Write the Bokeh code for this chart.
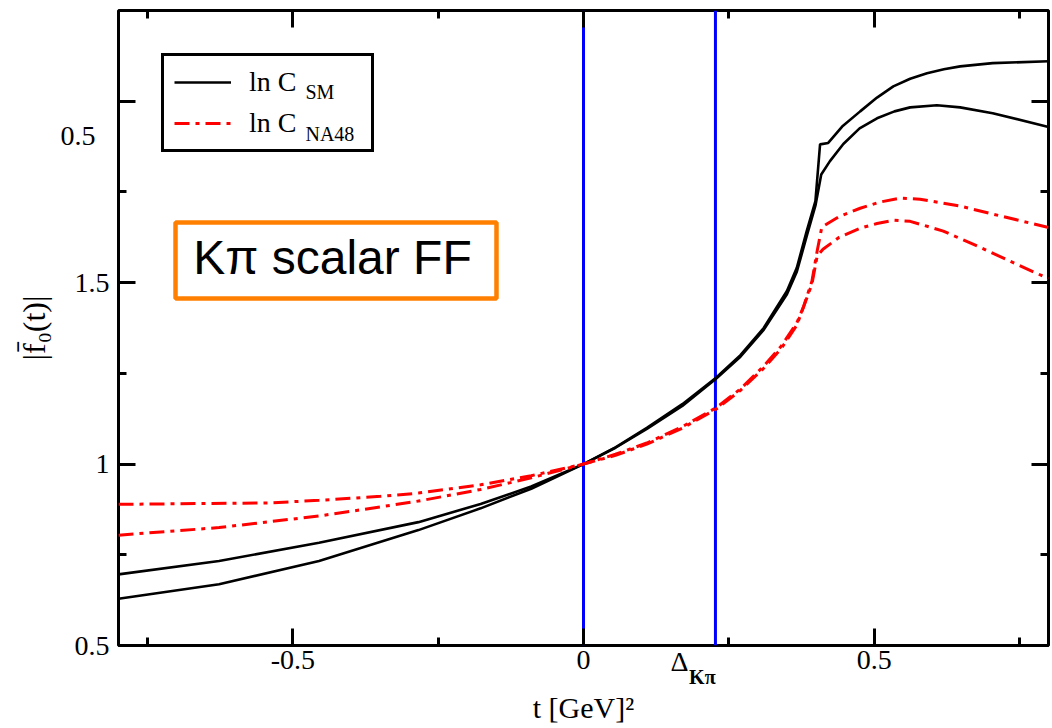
from bokeh.plotting import figure
from bokeh.models import (FixedTicker, LinearAxis, Span, Label, BoxAnnotation,
                          Legend, LegendItem)
from bokeh.embed import file_html
from bokeh.resources import INLINE

# ---------------- data ----------------
# ln C_SM band: curve A (low at t<0, high at t>0), curve B
t_sm_a = [-0.80, -0.627, -0.455, -0.284, -0.177, -0.09, 0.0, 0.055, 0.109, 0.17,
          0.228, 0.27, 0.310, 0.350, 0.367, 0.384, 0.399, 0.407, 0.421, 0.445,
          0.476, 0.505, 0.533, 0.562, 0.591, 0.620, 0.648, 0.704, 0.80]
f_sm_a = [0.629, 0.669, 0.733, 0.818, 0.878, 0.932, 1.0, 1.046, 1.100, 1.165,
          1.238, 1.300, 1.375, 1.477, 1.541, 1.642, 1.725, 1.881, 1.885, 1.930,
          1.972, 2.010, 2.041, 2.062, 2.077, 2.088, 2.096, 2.105, 2.110]

t_sm_b = [-0.80, -0.627, -0.455, -0.284, -0.177, -0.09, 0.0, 0.055, 0.109, 0.17,
          0.228, 0.27, 0.310, 0.350, 0.367, 0.384, 0.399, 0.409, 0.424, 0.447,
          0.475, 0.505, 0.535, 0.562, 0.608, 0.648, 0.704, 0.80]
f_sm_b = [0.696, 0.733, 0.783, 0.840, 0.890, 0.938, 1.0, 1.045, 1.097, 1.160,
          1.235, 1.296, 1.370, 1.468, 1.530, 1.628, 1.712, 1.798, 1.835, 1.882,
          1.925, 1.953, 1.972, 1.983, 1.989, 1.983, 1.967, 1.929]

# ln C_NA48 band: curve C (low at t<0, high at t>0), curve D
t_na_c = [-0.80, -0.627, -0.455, -0.349, -0.284, -0.177, -0.09, 0.0, 0.055, 0.109,
          0.17, 0.228, 0.27, 0.310, 0.340, 0.367, 0.378, 0.393, 0.402, 0.410,
          0.44, 0.476, 0.510, 0.545, 0.579, 0.648, 0.704, 0.80]
f_na_c = [0.804, 0.825, 0.857, 0.882, 0.898, 0.930, 0.962, 1.0, 1.027, 1.058,
          1.103, 1.155, 1.207, 1.270, 1.325, 1.389, 1.431, 1.504, 1.587, 1.653,
          1.682, 1.705, 1.722, 1.733, 1.730, 1.711, 1.689, 1.652]

t_na_d = [-0.80, -0.541, -0.455, -0.349, -0.284, -0.177, -0.09, 0.0, 0.055, 0.109,
          0.17, 0.228, 0.27, 0.310, 0.340, 0.367, 0.393, 0.402, 0.412, 0.44,
          0.476, 0.505, 0.533, 0.562, 0.619, 0.677, 0.734, 0.80]
f_na_d = [0.889, 0.893, 0.900, 0.911, 0.920, 0.943, 0.968, 1.0, 1.024, 1.055,
          1.099, 1.151, 1.203, 1.264, 1.318, 1.383, 1.496, 1.573, 1.592, 1.625,
          1.650, 1.663, 1.672, 1.669, 1.642, 1.601, 1.559, 1.511]

# vertical markers: t = 0 and t = Delta_Kpi
vlines_t = [0.0, 0.227]

x_ticks = [-0.5, 0.0, 0.5]
x_minor = [-0.75, -0.25, 0.25, 0.75]
x_tick_labels = ["-0.5", "0", "0.5"]
y_ticks = [0.5, 1.0, 1.5]
y_minor = [0.75, 1.25, 1.75]
y_tick_labels = ["0.5", "1", "1.5"]
y_hidden_major = [2.0]          # its label "2" is hidden behind the overlapping panel

# Delta_Kpi marker label (Delta, subscript K pi) and the overlapping panel's "0.5"
delta_label_t = [0.165]
kpi_label_t = [0.2045]
frag_label_y = [1.905]
frag_label_text = ["0.5"]

legend_labels = ["ln C", "ln C"]
legend_subs = ["SM", "NA48"]

# ---------------- figure ----------------
SERIF = "Liberation Serif"
p = figure(width=1052, height=728, x_range=(-0.8, 0.8), y_range=(0.5, 2.25),
           output_backend="svg", toolbar_location=None,
           x_axis_location=None, y_axis_location=None,
           min_border_left=118, min_border_right=4, min_border_top=10,
           min_border_bottom=83)
p.grid.visible = False
p.background_fill_color = "white"
p.border_fill_color = "white"
p.outline_line_color = "black"
p.outline_line_width = 3
p.outline_line_alpha = 1.0


def make_axis(ticks, minor=(), labels=None, major_in=0, minor_in=0, standoff=0,
              font_size="28px", font_style="normal", axis_label=None,
              axis_label_size="30px", axis_label_standoff=0):
    ax = LinearAxis(ticker=FixedTicker(ticks=list(ticks), minor_ticks=list(minor)))
    ax.axis_line_color = None
    ax.major_tick_in = major_in
    ax.major_tick_out = 0
    ax.minor_tick_in = minor_in
    ax.minor_tick_out = 0
    ax.major_tick_line_width = 3
    ax.minor_tick_line_width = 3
    ax.major_tick_line_color = "black" if major_in else None
    ax.minor_tick_line_color = "black" if minor_in else None
    ax.major_label_text_font = SERIF
    ax.major_label_text_color = "black"
    ax.major_label_text_font_size = font_size
    ax.major_label_text_font_style = font_style
    ax.major_label_standoff = standoff
    if labels is not None:
        ax.major_label_overrides = {v: s for v, s in zip(ticks, labels)}
    if axis_label is not None:
        ax.axis_label = axis_label
        ax.axis_label_text_font = SERIF
        ax.axis_label_text_font_style = "normal"
        ax.axis_label_text_color = "black"
        ax.axis_label_text_font_size = axis_label_size
        ax.axis_label_standoff = axis_label_standoff
    return ax


# bottom: tick axis, Delta label, K pi subscript, axis title
p.add_layout(make_axis(x_ticks, x_minor, x_tick_labels, major_in=17, minor_in=8,
                       standoff=5), "below")
p.add_layout(make_axis(delta_label_t, labels=["\u0394"], standoff=-26), "below")
p.add_layout(make_axis(kpi_label_t, labels=["K\u03c0"], standoff=-14,
                       font_size="20px", font_style="bold"), "below")
p.add_layout(make_axis([], axis_label="t [GeV]\u00b2", axis_label_size="30px",
                       axis_label_standoff=0), "below")

# left: hidden-label major tick, tick axis, overlapping-panel text, axis title
p.add_layout(make_axis([], y_hidden_major, minor_in=17), "left")
p.add_layout(make_axis(y_ticks, y_minor, y_tick_labels, major_in=17, minor_in=8,
                       standoff=9), "left")
p.add_layout(make_axis(frag_label_y, labels=frag_label_text, standoff=-24), "left")
p.add_layout(make_axis([], axis_label="|f\u0304\u2080(t)|", axis_label_size="32px",
                       axis_label_standoff=6), "left")

# top and right mirror ticks (no labels)
p.add_layout(make_axis([], x_ticks, minor_in=17), "above")
p.add_layout(make_axis([], x_minor, minor_in=8), "above")
p.add_layout(make_axis([], y_ticks + y_hidden_major, minor_in=17), "right")
p.add_layout(make_axis([], y_minor, minor_in=8), "right")

# vertical blue lines (under curves and ticks)
for tv in vlines_t:
    p.add_layout(Span(location=tv, dimension="height", line_color="#0000ff",
                      line_width=3, level="underlay"))

# curves
DASH = "15 6 4 6"
rA = p.line(t_sm_a, f_sm_a, line_color="black", line_width=2.6)
rB = p.line(t_sm_b, f_sm_b, line_color="black", line_width=2.6)
rC = p.line(t_na_c, f_na_c, line_color="#ff0000", line_width=3, line_dash=DASH)
rD = p.line(t_na_d, f_na_d, line_color="#ff0000", line_width=3, line_dash=DASH)

# legend subscripts (legend box is transparent, so these show through it)
p.add_layout(Label(x=-0.4783, y=2.0254, text=legend_subs[0], text_font=SERIF,
                   text_font_size="20px", text_color="black",
                   text_baseline="alphabetic"))
p.add_layout(Label(x=-0.4783, y=1.9097, text=legend_subs[1], text_font=SERIF,
                   text_font_size="20px", text_color="black",
                   text_baseline="alphabetic"))

# legend
legend = Legend(items=[LegendItem(label=legend_labels[0], renderers=[rA]),
                       LegendItem(label=legend_labels[1], renderers=[rC])],
                location="top_left", margin=43, padding=10, spacing=9,
                glyph_width=57, glyph_height=32, label_height=32,
                label_standoff=18, label_width=112,
                label_text_font=SERIF, label_text_font_size="28px",
                label_text_color="black",
                border_line_color="black", border_line_width=3,
                border_line_alpha=1.0,
                background_fill_color=None, background_fill_alpha=0.0)
p.add_layout(legend, "center")

# "K pi scalar FF" box
p.add_layout(BoxAnnotation(left=-0.7019, right=-0.1497, bottom=1.4563, top=1.6658,
                           fill_color="white", fill_alpha=1.0,
                           line_color="#ff8000", line_width=4.5, line_alpha=1.0))
p.add_layout(Label(x=-0.4318, y=1.569, text="K\u03c0 scalar FF",
                   text_font="Liberation Sans", text_font_size="48px",
                   text_align="center", text_baseline="alphabetic",
                   text_color="black"))

open("out.html", "w", encoding="utf-8").write(file_html(p, INLINE))
